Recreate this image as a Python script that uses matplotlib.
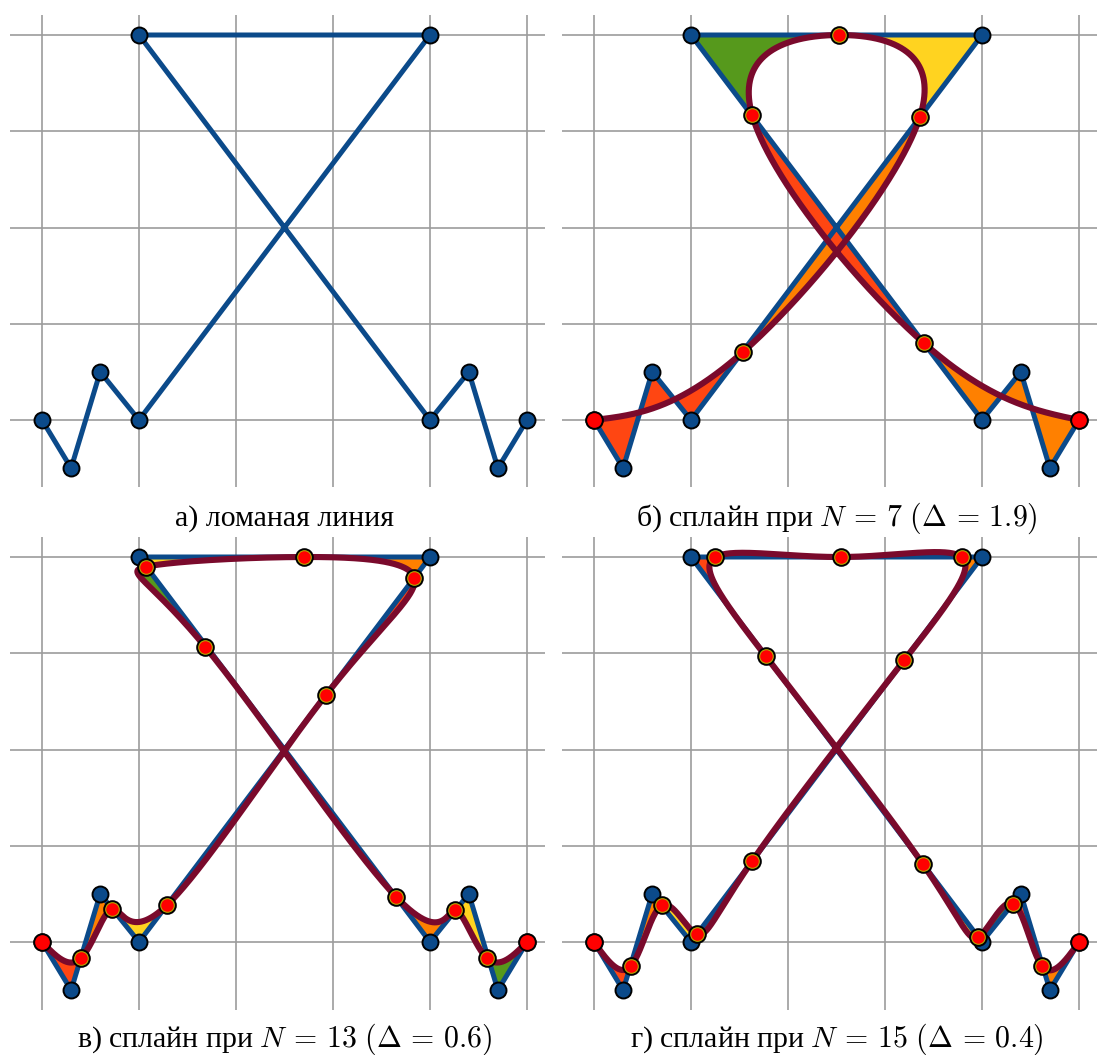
import numpy as np
import matplotlib
matplotlib.use("Agg")
import matplotlib.pyplot as plt

plt.rcParams['font.family'] = ['Liberation Serif', 'DejaVu Serif']
plt.rcParams['mathtext.fontset'] = 'cm'

# исходная ломаная
line_x = [0, 0.3, 0.6, 1, 4, 1, 4, 4.4, 4.7, 5]
line_y = [0, -0.5, 0.5, 0, 4, 4, 0, 0.5, -0.5, 0]

# узлы сплайнов (точки на ломаной)
knots7_x = [0, 1.54, 3.36, 2.53, 1.63, 3.40, 5]
knots7_y = [0, 0.71, 3.15, 4.0, 3.17, 0.80, 0]

knots13_x = [0, 0.40, 0.725, 1.285, 2.93, 3.84, 2.70, 1.075, 1.68, 3.65, 4.26, 4.59, 5]
knots13_y = [0, -0.17, 0.344, 0.38, 2.57, 3.78, 4.0, 3.90, 3.07, 0.47, 0.33, -0.17, 0]

knots15_x = [0, 0.38, 0.70, 1.06, 1.63, 3.20, 3.79, 2.55, 1.25, 1.77, 3.39, 3.96, 4.32, 4.62, 5]
knots15_y = [0, -0.25, 0.38, 0.08, 0.84, 2.93, 4.0, 4.0, 4.0, 2.97, 0.81, 0.05, 0.40, -0.25, 0]

captions = [r"а) ломаная линия",
            r"б) сплайн при $N\,=\,7\ (\Delta\,=\,1.9)$",
            r"в) сплайн при $N\,=\,13\ (\Delta\,=\,0.6)$",
            r"г) сплайн при $N\,=\,15\ (\Delta\,=\,0.4)$"]

fill_colors = ['#ff4612', '#ff8000', '#ffd320', '#56991c']

BLUE = '#0b4a8a'
WINE = '#7a0a2c'
W, H = 1100, 1055
UX, UY = 97.0, 96.25

px = np.array(line_x, float)
py = np.array(line_y, float)
seg_len = np.hypot(np.diff(px), np.diff(py))
cum = np.concatenate([[0], np.cumsum(seg_len)])
total = cum[-1]


def line_at(s):
    return np.interp(s, cum, px), np.interp(s, cum, py)


def arc_position(x, y, s_min):
    # ближайшая точка ломаной, не раньше s_min
    best = None
    for i in range(len(seg_len)):
        if cum[i + 1] < s_min:
            continue
        dx, dy = px[i + 1] - px[i], py[i + 1] - py[i]
        f = ((x - px[i]) * dx + (y - py[i]) * dy) / seg_len[i] ** 2
        f = np.clip(f, max(0.0, (s_min - cum[i]) / seg_len[i]), 1.0)
        d = np.hypot(px[i] + f * dx - x, py[i] + f * dy - y)
        if best is None or d < best[0]:
            best = (d, cum[i] + f * seg_len[i])
    return best[1]


def natural_spline(v, tt):
    # естественный кубический сплайн, узлы t = 0, 1, ..., n-1
    n = len(v)
    A = np.zeros((n, n))
    r = np.zeros(n)
    A[0, 0] = A[-1, -1] = 1
    for i in range(1, n - 1):
        A[i, i - 1], A[i, i], A[i, i + 1] = 1, 4, 1
        r[i] = 6 * (v[i + 1] - 2 * v[i] + v[i - 1])
    m = np.linalg.solve(A, r)
    idx = np.clip(np.floor(tt).astype(int), 0, n - 2)
    b = tt - idx
    a = 1 - b
    return a * v[idx] + b * v[idx + 1] + ((a ** 3 - a) * m[idx] + (b ** 3 - b) * m[idx + 1]) / 6


def setup_axes(fig, left, right, top, bottom, x0, y0):
    ax = fig.add_axes([left / W, 1 - bottom / H, (right - left) / W, (bottom - top) / H])
    ax.set_xlim((left - x0) / UX, (right - x0) / UX)
    ax.set_ylim((y0 - bottom) / UY, (y0 - top) / UY)
    ax.set_xticks(range(6))
    ax.set_yticks(range(5))
    ax.tick_params(length=0, labelbottom=False, labelleft=False)
    ax.grid(True, color='#9c9c9c', lw=1.2)
    ax.set_axisbelow(True)
    for sp in ax.spines.values():
        sp.set_visible(False)
    ax.patch.set_alpha(0)
    return ax


def draw_line(ax):
    ax.plot(px, py, color=BLUE, lw=3.6, zorder=3, solid_capstyle='round', solid_joinstyle='round')
    ax.plot(px, py, 'o', ms=11.5, mfc=BLUE, mec='black', mew=1.4, zorder=5, clip_on=False)


def draw_spline(ax, kx, ky):
    kx = np.array(kx, float)
    ky = np.array(ky, float)
    n = len(kx)
    s = [0.0]
    for x, y in zip(kx[1:-1], ky[1:-1]):
        s.append(arc_position(x, y, s[-1]))
    s.append(total)

    # заливка между сплайном и ломаной на каждом участке между узлами
    for k in range(n - 1):
        u = np.linspace(k, k + 1, 120)
        cx = natural_spline(kx, u)
        cy = natural_spline(ky, u)
        inner = cum[(cum > s[k]) & (cum < s[k + 1])]
        back = np.sort(np.concatenate([[s[k], s[k + 1]], inner]))[::-1]
        bx, by = line_at(back)
        ax.fill(np.concatenate([cx, bx]), np.concatenate([cy, by]),
                color=fill_colors[k % 4], lw=0, zorder=2)

    tt = np.linspace(0, n - 1, 3000)
    ax.plot(natural_spline(kx, tt), natural_spline(ky, tt),
            color=WINE, lw=4.4, zorder=4, solid_capstyle='round')
    ax.plot(kx[1:-1], ky[1:-1], 'o', ms=12, mfc='#b8a800', mec='black', mew=1.4, zorder=6)
    ax.plot(kx[1:-1], ky[1:-1], 'o', ms=9, mfc='#ff0000', mec='none', zorder=7)
    ax.plot(kx[[0, -1]], ky[[0, -1]], 'o', ms=12, mfc='#ff0000', mec='black', mew=1.4,
            zorder=7, clip_on=False)


fig = plt.figure(figsize=(W / 100, H / 100), dpi=100)

panels = [
    (10, 545, 15, 487, 42, 420, None),
    (562, 1097, 15, 487, 594, 420, (knots7_x, knots7_y)),
    (10, 545, 537, 1010, 42, 942, (knots13_x, knots13_y)),
    (562, 1097, 537, 1010, 594, 942, (knots15_x, knots15_y)),
]
baselines = [526, 526, 1047, 1047]

for (left, right, top, bottom, x0, y0, knots), cap, base in zip(panels, captions, baselines):
    ax = setup_axes(fig, left, right, top, bottom, x0, y0)
    draw_line(ax)
    if knots is not None:
        draw_spline(ax, *knots)
    fig.text((x0 + 2.5 * UX) / W, 1 - base / H, cap, ha='center', va='baseline', fontsize=21.5)

fig.savefig('out.png', dpi=100)
